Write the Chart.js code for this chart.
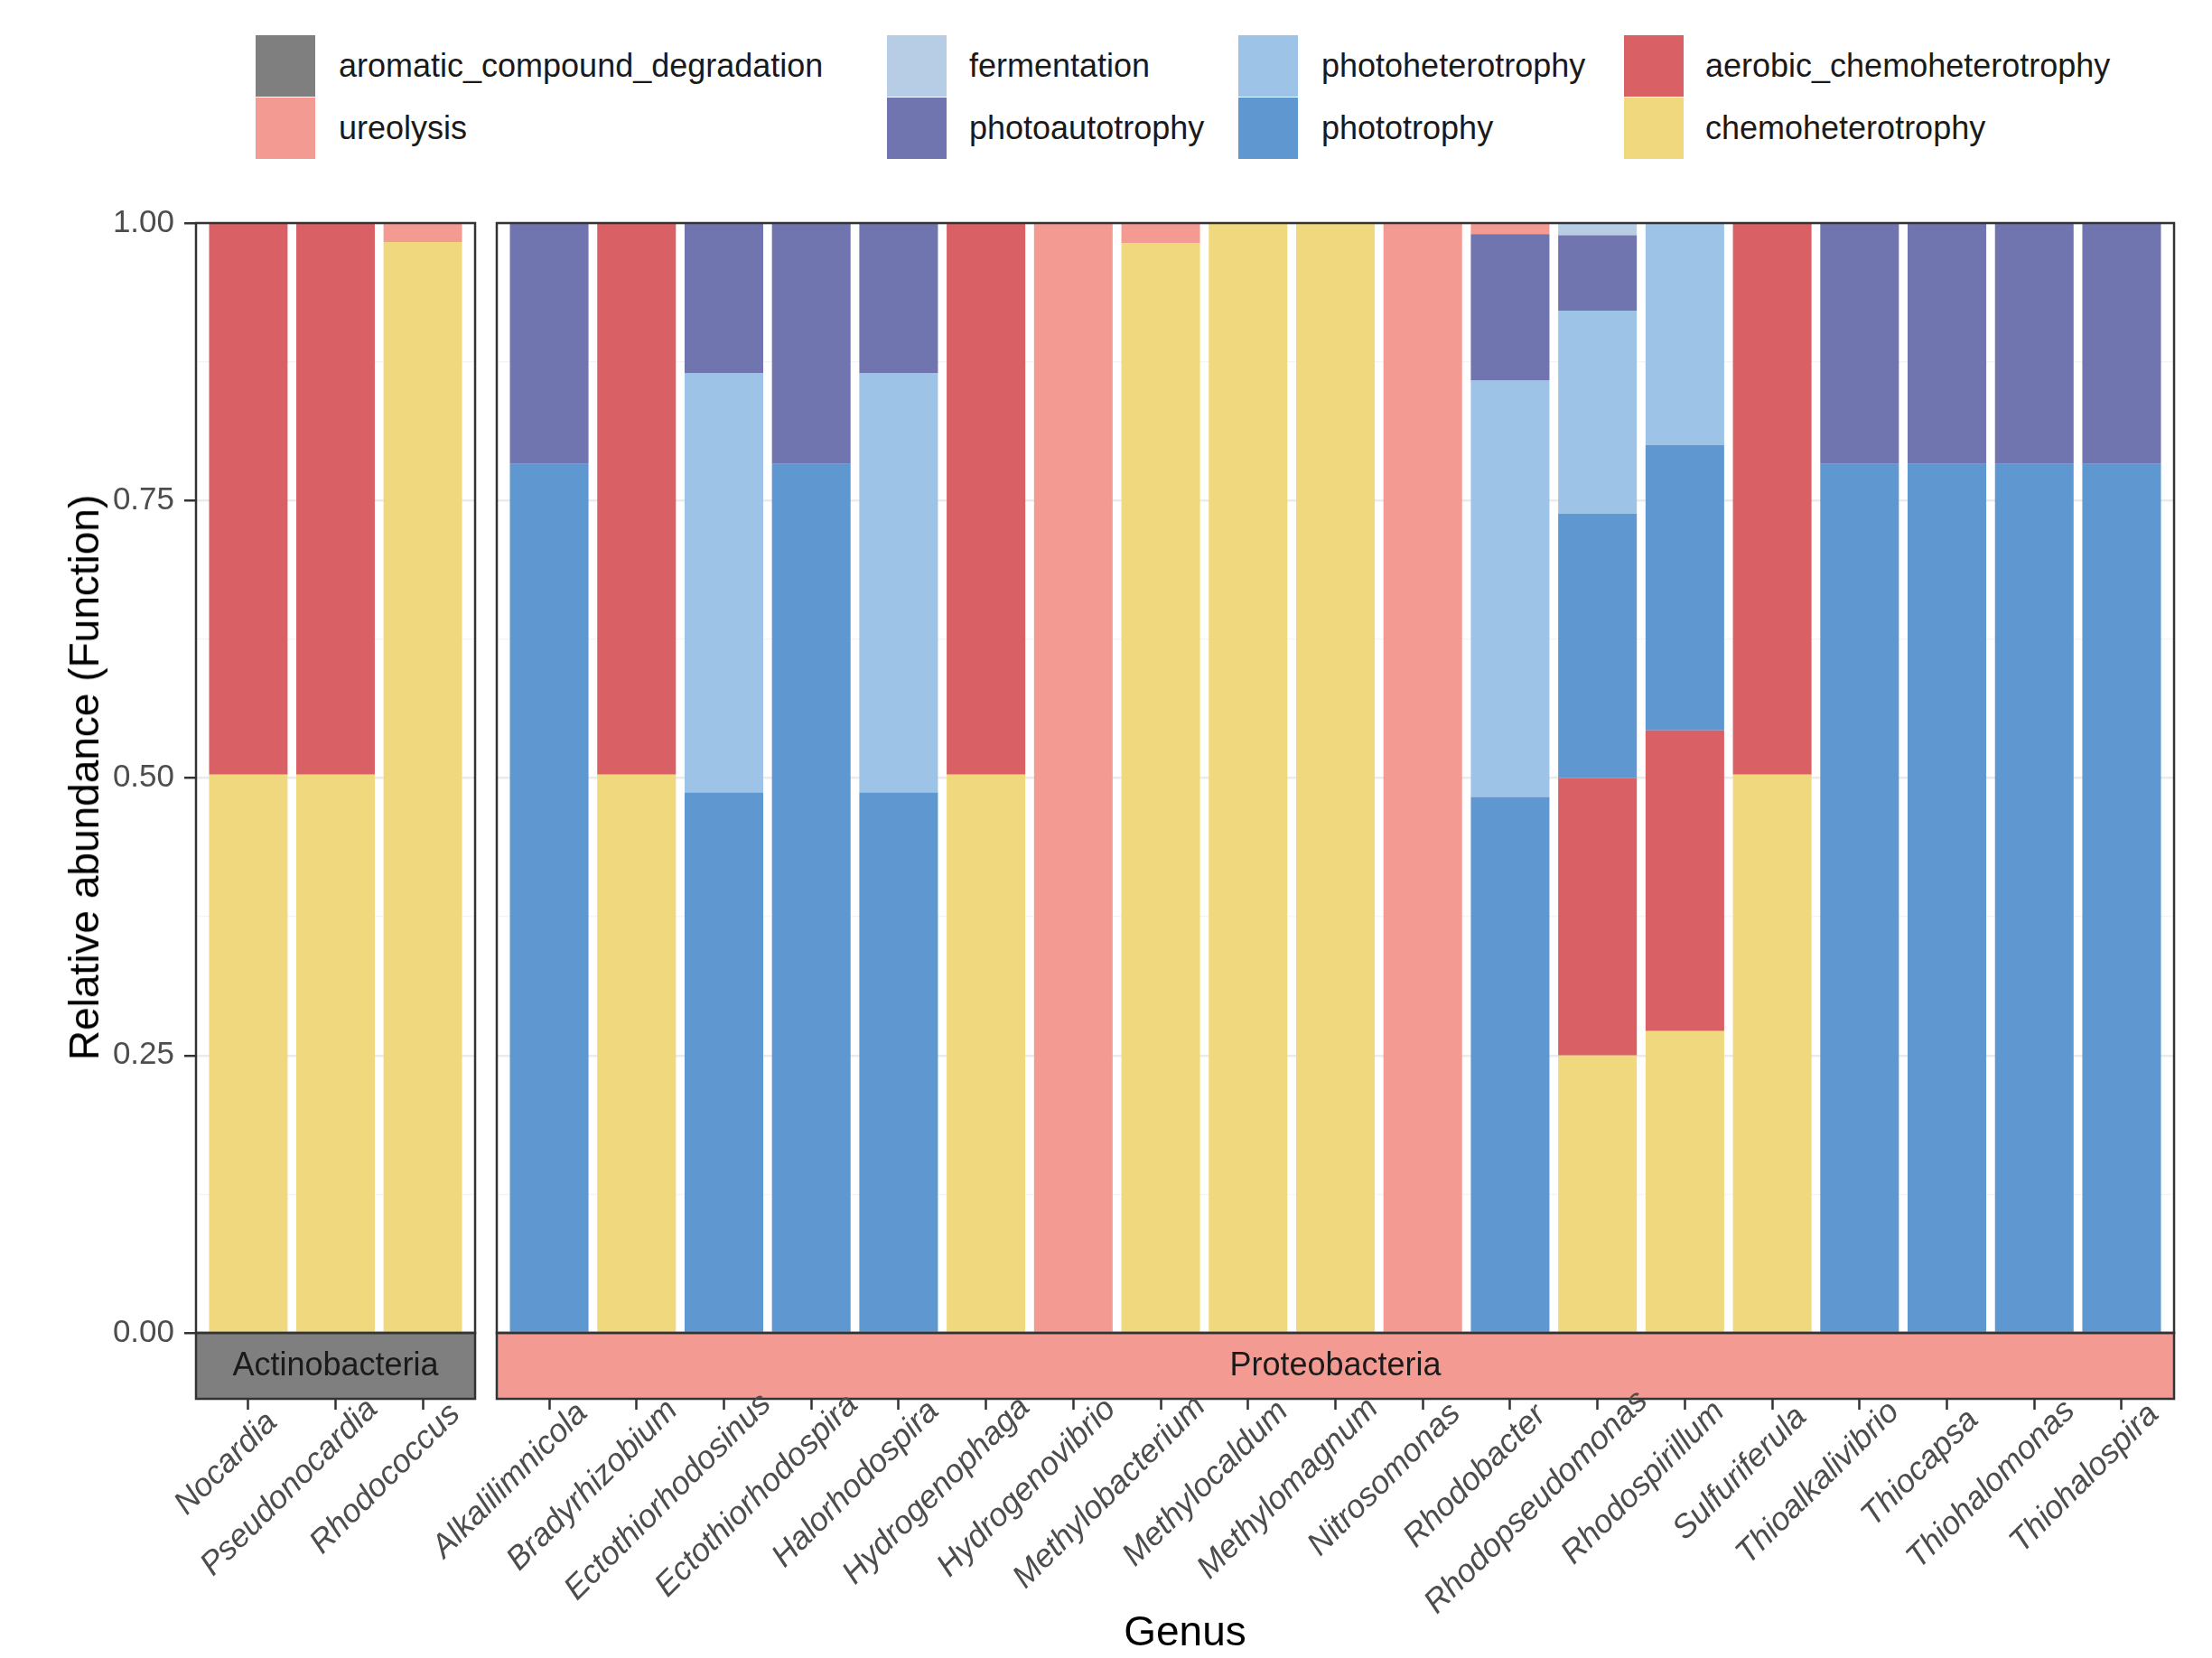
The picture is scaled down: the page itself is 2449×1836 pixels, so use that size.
<!DOCTYPE html>
<html>
<head>
<meta charset="utf-8">
<script src="https://cdn.jsdelivr.net/npm/chart.js@4.4.1/dist/chart.umd.min.js"></script>
<style>
  html, body { margin: 0; padding: 0; background: #fff; }
  body { width: 2449px; height: 1836px; position: relative; overflow: hidden;
         font-family: "Liberation Sans", Arial, sans-serif; }
  canvas { position: absolute; top: 0; left: 0; }
  .key { position: absolute; width: 66px; height: 68px; }
  .ltxt { position: absolute; font-size: 36px; color: #1a1a1a; line-height: 1;
          transform: translateY(-50%); white-space: nowrap; }
  #ytitle { position: absolute; left: 93px; top: 861px; font-size: 46px; color: #000;
            transform: translate(-50%, -50%) rotate(-90deg); white-space: nowrap; }
  #xtitle { position: absolute; left: 1312px; top: 1806px; font-size: 46px; color: #000;
            transform: translate(-50%, -50%); white-space: nowrap; }
</style>
</head>
<body>
<div id="legend"></div>
<canvas id="actinoChart" width="540" height="1836"></canvas>
<canvas id="proteoChart" width="2449" height="1836"></canvas>
<div id="ytitle">Relative abundance (Function)</div>
<div id="xtitle">Genus</div>

<script>
// =========================
// DATA
// =========================
const actinoGenera = ["Nocardia","Pseudonocardia","Rhodococcus"];
const proteoGenera = [
  "Alkalilimnicola","Bradyrhizobium","Ectothiorhodosinus","Ectothiorhodospira",
  "Halorhodospira","Hydrogenophaga","Hydrogenovibrio","Methylobacterium",
  "Methylocaldum","Methylomagnum","Nitrosomonas","Rhodobacter",
  "Rhodopseudomonas","Rhodospirillum","Sulfuriferula","Thioalkalivibrio",
  "Thiocapsa","Thiohalomonas","Thiohalospira"
];
const phyla = ["Actinobacteria","Proteobacteria"];

// one value per genus: 3 Actinobacteria then 19 Proteobacteria
const chemoheterotrophy =        [0.503,0.503,0.983, 0,0.503,0,0,0,0.503,0,0.982,1,1,0,0,0.25,0.272,0.503,0,0,0,0];
const aerobicChemoheterotrophy = [0.497,0.497,0,     0,0.497,0,0,0,0.497,0,0,0,0,0,0,0.25,0.271,0.497,0,0,0,0];
const phototrophy =              [0,0,0, 0.783,0,0.487,0.783,0.487,0,0,0,0,0,0,0.483,0.238,0.257,0,0.783,0.783,0.783,0.783];
const photoheterotrophy =        [0,0,0, 0,0,0.378,0,0.378,0,0,0,0,0,0,0.375,0.183,0.2,0,0,0,0,0];
const photoautotrophy =          [0,0,0, 0.217,0,0.135,0.217,0.135,0,0,0,0,0,0,0.132,0.068,0,0,0.217,0.217,0.217,0.217];
const fermentation =             [0,0,0, 0,0,0,0,0,0,0,0,0,0,0,0,0.011,0,0,0,0,0,0];
const ureolysis =                [0,0,0.017, 0,0,0,0,0,0,1,0.018,0,0,1,0.01,0,0,0,0,0,0,0];
const aromaticCompoundDegradation = [0,0,0, 0,0,0,0,0,0,0,0,0,0,0,0,0,0,0,0,0,0,0];

// legend order (ggplot factor order, top of stack first)
const functionNames = [
  "aromatic_compound_degradation","ureolysis","fermentation","photoautotrophy",
  "photoheterotrophy","phototrophy","aerobic_chemoheterotrophy","chemoheterotrophy"
];
const functionValues = [
  aromaticCompoundDegradation, ureolysis, fermentation, photoautotrophy,
  photoheterotrophy, phototrophy, aerobicChemoheterotrophy, chemoheterotrophy
];
const functionColors = [
  "#7f7f7f","#f39b93","#b7cde6","#7175af",
  "#9dc3e6","#5f97d0","#d96064","#f0d87e"
];
const stripColors = ["#7f7f7f","#f39b93"];
const yTicks = [0, 0.25, 0.5, 0.75, 1];

const FONT = '"Liberation Sans", Arial, sans-serif';
Chart.defaults.font.family = FONT;

// =========================
// LEGEND (2 rows, filled by column)
// =========================
const legend = document.getElementById("legend");
const keyX = [283, 982, 1371, 1798];
const txtX = [375, 1073, 1463, 1888];
const keyTop = [39, 108];
functionNames.forEach((name, i) => {
  const col = Math.floor(i / 2), row = i % 2;
  const k = document.createElement("div");
  k.className = "key";
  k.style.left = keyX[col] + "px";
  k.style.top = keyTop[row] + "px";
  k.style.background = functionColors[i];
  legend.appendChild(k);
  const t = document.createElement("div");
  t.className = "ltxt";
  t.style.left = txtX[col] + "px";
  t.style.top = (keyTop[row] + 34) + "px";
  t.textContent = name;
  legend.appendChild(t);
});

// =========================
// PANEL BORDER + STRIP + GENUS LABELS
// =========================
const STRIP_H = 73;
const TICK_H = 12;
const panelDecor = {
  id: "panelDecor",
  afterDraw(chart, args, opts) {
    const { ctx, chartArea: a } = chart;
    ctx.save();
    ctx.fillStyle = opts.fill;
    ctx.fillRect(a.left, a.bottom, a.right - a.left, STRIP_H);
    ctx.lineWidth = 2.5;
    ctx.strokeStyle = "#333333";
    ctx.strokeRect(a.left, a.bottom, a.right - a.left, STRIP_H);
    ctx.strokeRect(a.left, a.top, a.right - a.left, a.bottom - a.top);
    ctx.fillStyle = "#1a1a1a";
    ctx.font = "36px " + FONT;
    ctx.textAlign = "center";
    ctx.textBaseline = "middle";
    ctx.fillText(opts.label, (a.left + a.right) / 2, a.bottom + STRIP_H / 2 + 1);

    // rotated genus names, anchored a bit before the end of the text
    const xs = chart.scales.x;
    const y0 = a.bottom + STRIP_H + TICK_H;
    ctx.font = "italic 36px " + FONT;
    ctx.fillStyle = "#4d4d4d";
    ctx.textAlign = "right";
    ctx.textBaseline = "alphabetic";
    opts.genera.forEach((g, j) => {
      const w = ctx.measureText(g).width;
      ctx.save();
      ctx.translate(xs.getPixelForValue(j + 1), y0);
      ctx.rotate(-Math.PI / 4);
      ctx.fillText(g, 0.177 * w - 13, 35);
      ctx.restore();
    });
    ctx.restore();
  }
};

const isMajor = v => yTicks.some(t => Math.abs(t - v) < 1e-6);

function makePanel(canvasId, genera, offset, phylumIdx, showY, padding) {
  const n = genera.length;
  const datasets = [];
  // bottom of stack first
  for (let i = functionNames.length - 1; i >= 0; i--) {
    datasets.push({
      label: functionNames[i],
      data: genera.map((g, j) => ({ x: j + 1, y: functionValues[i][offset + j] })),
      backgroundColor: functionColors[i],
      borderWidth: 0
    });
  }

  return new Chart(document.getElementById(canvasId), {
    type: "bar",
    data: { datasets },
    plugins: [panelDecor],
    options: {
      responsive: false,
      animation: false,
      devicePixelRatio: 1,
      layout: { padding },
      datasets: { bar: { categoryPercentage: 1, barPercentage: 0.9 } },
      plugins: {
        legend: { display: false },
        tooltip: { enabled: false },
        panelDecor: { fill: stripColors[phylumIdx], label: phyla[phylumIdx], genera }
      },
      scales: {
        x: {
          type: "linear",
          min: 0.4,
          max: n + 0.6,
          offset: false,
          stacked: true,
          afterBuildTicks: s => { s.ticks = genera.map((g, j) => ({ value: j + 1 })); },
          afterFit: s => { s.height = 360; s.paddingLeft = 0; s.paddingRight = 0; },
          border: { display: false },
          grid: {
            offset: false,
            drawOnChartArea: false,
            drawTicks: true,
            tickLength: STRIP_H + TICK_H,
            tickColor: "#333333",
            tickWidth: 2.5
          },
          ticks: { display: false, autoSkip: false }
        },
        y: {
          min: 0,
          max: 1,
          stacked: true,
          afterFit: s => { s.width = showY ? 217 : 0; },
          border: { display: false },
          grid: {
            color: c => isMajor(c.tick.value) ? "#ebebeb" : "#f4f4f4",
            lineWidth: c => isMajor(c.tick.value) ? 2.5 : 1.3,
            drawTicks: showY,
            tickLength: 13,
            tickWidth: 2.5,
            tickColor: c => isMajor(c.tick.value) ? "#333333" : "rgba(0,0,0,0)"
          },
          ticks: {
            display: showY,
            stepSize: 0.125,
            padding: 11,
            color: "#4d4d4d",
            font: { size: 35 },
            callback: v => isMajor(v) ? v.toFixed(2) : ""
          }
        }
      }
    }
  });
}

makePanel("actinoChart", actinoGenera, 0, 0, true, { top: 247, left: 0, right: 14, bottom: 0 });
makePanel("proteoChart", proteoGenera, actinoGenera.length, 1, false, { top: 247, left: 550, right: 42, bottom: 0 });
</script>
</body>
</html>
